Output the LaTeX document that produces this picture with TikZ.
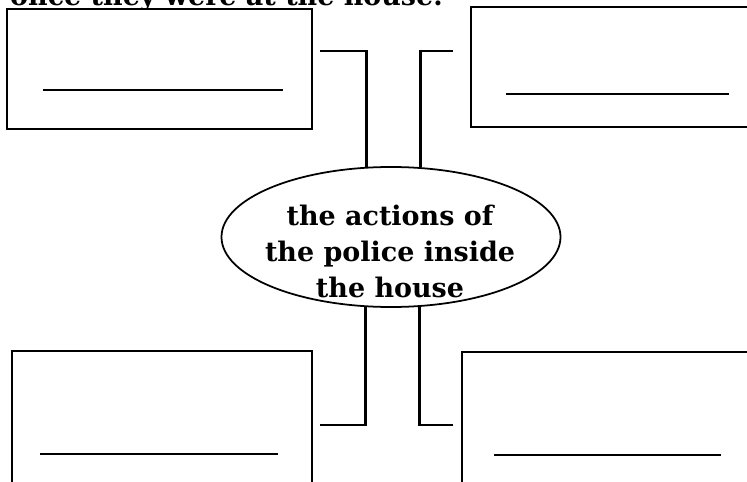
\documentclass[tikz,border=0pt]{standalone}
\usepackage{fontspec}
\setmainfont{DejaVu Serif}
\usepackage{tikz}
\usepackage{xcolor}
\usetikzlibrary{shapes.geometric, positioning, calc}
\definecolor{SheetBlack}{HTML}{000000}
\definecolor{SheetWhite}{HTML}{ffffff}
\tikzset{
    % Box styles - sharp corners, black outline
    answerbox/.style={
        rectangle,
        draw=SheetBlack,
        fill=SheetWhite,
        line width=1.6pt,
        inner sep=0pt
    },
    bubble/.style={
        ellipse,
        draw=SheetBlack,
        line width=1.5pt,
        minimum width=10.17cm,
        minimum height=4.2cm,
        inner sep=0pt
    },
    bubbletext/.style={
        align=center,
        inner sep=0pt,
        font=\bfseries\fontsize{23}{30.7}\selectfont
    },
    % Line styles - straight lines only
    blank/.style={
        line width=2.5pt,
        draw=SheetBlack
    },
    link/.style={
        line width=2.5pt,
        draw=SheetBlack
    }
}

\begin{document}
\begin{tikzpicture}[x=0.03cm, y=-0.03cm]
    \useasboundingbox (0,0) rectangle (747,482);
    \clip (0,0) rectangle (747,482);

    % Heading cut by the page edge
    \node[bubbletext, anchor=base west] (intro) at (10,5.5) {once they were at the house.};

    % Answer boxes
    \node[answerbox, minimum width=9.15cm, minimum height=3.6cm] (boxTL) at (159.5,69) {};
    \node[answerbox, minimum width=9.27cm, minimum height=3.6cm] (boxTR) at (625.5,67) {};
    \node[answerbox, minimum width=9cm, minimum height=4.47cm] (boxBL) at (162,425.5) {};
    \node[answerbox, minimum width=9.54cm, minimum height=4.47cm] (boxBR) at (621,426.5) {};

    % Blank lines to write on
    \draw[blank] (43,90) -- (283,90);
    \draw[blank] (506,94) -- (729,94);
    \draw[blank] (40,454) -- (278,454);
    \draw[blank] (494,455) -- (721,455);

    % Centre bubble
    \node[bubble] (ell) at (391,237) {};
    \node[bubbletext, anchor=north] (ellText) at (390,205) {the actions of\\the police inside\\the house};

    % Connectors
    \coordinate (cTL) at (320,51);
    \coordinate (cTR) at (452.7,51);
    \coordinate (cBL) at (320,425);
    \coordinate (cBR) at (452.7,425);
    \draw[link] (cTL) -| (ell.109.33);
    \draw[link] (cTR) -| (ell.67.93);
    \draw[link] (cBL) -| (ell.250.67);
    \draw[link] (cBR) -| (ell.292.07);
\end{tikzpicture}
\end{document}
